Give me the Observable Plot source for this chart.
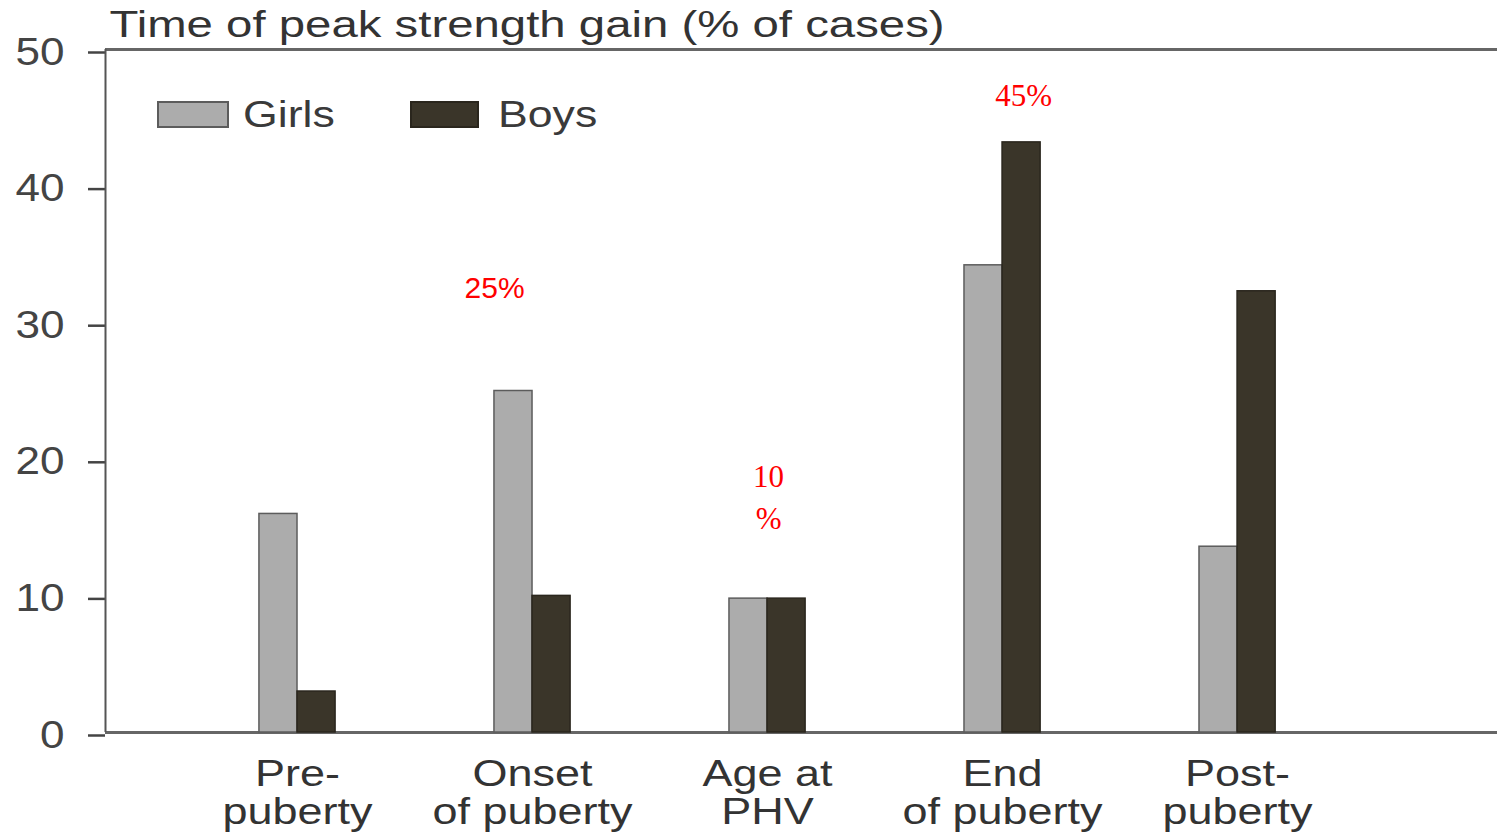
<!DOCTYPE html>
<html><head><meta charset="utf-8">
<script src="https://cdn.jsdelivr.net/npm/d3@7"></script>
<script src="https://cdn.jsdelivr.net/npm/@observablehq/plot@0.6"></script>
<style>
body{margin:0;background:#fff;}
#wrap{position:relative;width:1497px;height:833px;overflow:hidden;font-family:"Liberation Sans",Arial,sans-serif;}
.sw{position:absolute;box-sizing:border-box;border:2px solid #5e5e5e;}
.lt{position:absolute;font-size:36px;color:#3a3a3a;transform-origin:0 50%;transform:scaleX(1.24);line-height:1;}
</style></head><body><div id="wrap"></div>
<script>
const title = "Time of peak strength gain (% of cases)";
const categories = ["Pre-\npuberty", "Onset\nof puberty", "Age at\nPHV", "End\nof puberty", "Post-\npuberty"];
const girls = [16, 25, 9.8, 34.2, 13.6];
const boys = [3, 10, 9.8, 43.2, 32.3];
const yTicks = [0, 10, 20, 30, 40, 50];
const seriesNames = ["Girls", "Boys"];
const seriesColors = ["#acacac", "#3a3529"];
const seriesStroke = ["#5c5c5c", "#2a261d"];
const annotCategory = [1, 2, 3];
const annotText = ["25%", "10\n%", "45%"];
const annotValue = [32.5, 17.4, 46.6];

const rows = [];
categories.forEach((c, i) => {
  rows.push({i, sex: "Girls", value: girls[i]});
  rows.push({i, sex: "Boys", value: boys[i]});
});
const annots = annotText.map((t, k) => ({i: annotCategory[k], t, v: annotValue[k]}));

const xDomain = [-0.817, 5.106];
const bw = 0.162;

const svg = Plot.plot({
  width: 1497, height: 833,
  marginLeft: 105, marginRight: 0, marginTop: 49, marginBottom: 101,
  style: {fontFamily: '"Liberation Sans", Arial, sans-serif', background: "transparent", overflow: "visible"},
  x: {domain: xDomain, axis: null},
  y: {domain: [0, 50], axis: null},
  color: {domain: seriesNames, range: seriesColors},
  marks: [
    Plot.axisY(yTicks, {tickSize: 17, tickPadding: 24, fontSize: 38, color: "#444", strokeWidth: 2.5, dy: 3, label: null, tickFormat: d => String(d)}),
    Plot.ruleY([0, 50], {stroke: "#666", strokeWidth: 3}),
    Plot.ruleX([xDomain[0]], {stroke: "#555", strokeWidth: 2}),
    Plot.rectY(rows.filter(d => d.sex === "Girls"), {x1: d => d.i - bw, x2: d => d.i, y1: 0, y2: "value", fill: seriesColors[0], stroke: seriesStroke[0], strokeWidth: 1.5}),
    Plot.rectY(rows.filter(d => d.sex === "Boys"), {x1: d => d.i, x2: d => d.i + bw, y1: 0, y2: "value", fill: seriesColors[1], stroke: seriesStroke[1], strokeWidth: 1.5}),
    Plot.text([title], {frameAnchor: "top-left", textAnchor: "start", lineAnchor: "top", dx: 4, dy: -39, fontSize: 37, fill: "#333"}),
    Plot.text(categories, {x: (d, i) => i, frameAnchor: "bottom", lineAnchor: "top", dy: 27, fontSize: 36, lineHeight: 1.05, fill: "#333"}),
    Plot.text([annots[0]], {x: "i", y: "v", text: "t", dx: -38, fontSize: 30, fill: "#ff0000", fontFamily: '"Liberation Sans", Arial, sans-serif'}),
    Plot.text([annots[1]], {x: "i", y: "v", text: "t", dx: 1, fontSize: 31, lineHeight: 1.35, fill: "#ff0000", fontFamily: '"Liberation Serif", "Times New Roman", serif'}),
    Plot.text([annots[2]], {x: "i", y: "v", text: "t", dx: 21, fontSize: 31, fill: "#ff0000", fontFamily: '"Liberation Serif", "Times New Roman", serif'})
  ]
});

const factors = {"36": 1.25, "37": 1.28, "38": 1.16};
svg.querySelectorAll("text").forEach(t => {
  const g = t.closest("[font-size]");
  const fs = g ? g.getAttribute("font-size") : null;
  const f = factors[fs];
  if (!f) return;
  const tr = t.getAttribute("transform");
  if (tr) t.setAttribute("transform", tr + ` scale(${f},1)`);
  else {
    const x = +t.getAttribute("x") || 0, y = +t.getAttribute("y") || 0;
    t.setAttribute("transform", `translate(${x},${y}) scale(${f},1) translate(${-x},${-y})`);
  }
});

const wrap = document.getElementById("wrap");
wrap.appendChild(svg);
svg.style.position = "absolute"; svg.style.left = "0"; svg.style.top = "0";

const legendPos = [{sw: 157, w: 72, tx: 243}, {sw: 410, w: 69, tx: 498}];
seriesNames.forEach((name, k) => {
  const s = document.createElement("div");
  s.className = "sw";
  Object.assign(s.style, {left: legendPos[k].sw + "px", top: "101px", width: legendPos[k].w + "px", height: "27px", background: seriesColors[k], borderColor: seriesStroke[k]});
  wrap.appendChild(s);
  const t = document.createElement("div");
  t.className = "lt";
  t.textContent = name;
  Object.assign(t.style, {left: legendPos[k].tx + "px", top: "97px"});
  wrap.appendChild(t);
});
</script>
</body></html>
